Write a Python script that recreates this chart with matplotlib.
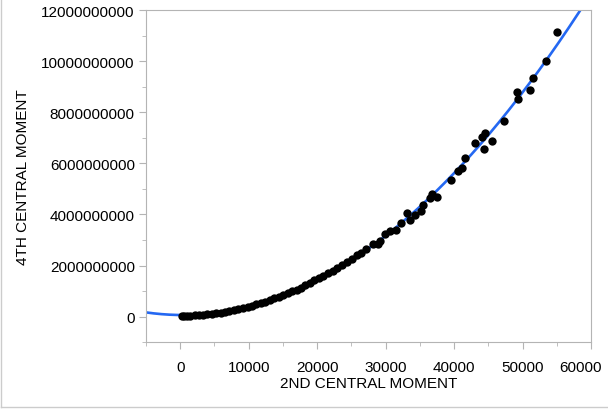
import numpy as np
import matplotlib.pyplot as plt
import matplotlib.transforms as mtrans
from matplotlib.lines import Line2D
from matplotlib.ticker import MultipleLocator, FormatStrFormatter

plt.rcParams['font.family'] = ['Liberation Sans', 'DejaVu Sans']

# 2nd central moment (x) and 4th central moment (y, in units of 1e9)
m2 = [200, 500, 1000, 1500, 2100, 2700, 3300, 3900, 4600, 5200, 5900, 6500,
      7200, 7800, 8500, 9200, 9900, 10500, 11100, 11800, 12400, 13100, 13700,
      14400, 15000, 15800, 16400, 17000, 17600, 18300, 19000, 19600, 20300,
      20900, 21600, 22300, 22900, 23700, 24300, 25100, 25800, 26400, 27200,
      28100, 28900, 29150, 29900, 30600, 31500, 32300, 33140, 33530, 34300,
      35180, 35470, 36540, 36730, 37510, 39550, 40620, 41110, 41590, 43050,
      44120, 44310, 44460, 45580, 47230, 49220, 49320, 51120, 51500, 53500,
      55060]
m4 = [0.01, 0.02, 0.03, 0.04, 0.05, 0.06, 0.08, 0.09, 0.11, 0.13, 0.16, 0.18,
      0.22, 0.25, 0.29, 0.33, 0.38, 0.43, 0.48, 0.53, 0.59, 0.65, 0.71,
      0.78, 0.83, 0.93, 1.00, 1.06, 1.13, 1.24, 1.33, 1.42, 1.52,
      1.60, 1.69, 1.80, 1.89, 2.04, 2.13, 2.27, 2.40, 2.50, 2.64,
      2.86, 2.84, 2.95, 3.25, 3.34, 3.40, 3.66, 4.06, 3.79, 3.98,
      4.14, 4.35, 4.64, 4.79, 4.69, 5.36, 5.71, 5.80, 6.22, 6.78,
      7.04, 6.56, 7.17, 6.87, 7.65, 8.79, 8.50, 8.86, 9.34, 10.02,
      11.13]

x = np.array(m2, dtype=float)
y = np.array(m4) * 1e9

coef = np.polyfit(x, y, 2)
xs = np.linspace(-5000, 60000, 400)

fig = plt.figure(figsize=(6.08, 4.10), dpi=100)
ax = fig.add_axes([0.240, 0.163, 0.732, 0.810])

ax.plot(xs, np.polyval(coef, xs), color='#2468f2', lw=1.9, zorder=2)
ax.scatter(x, y, s=36, color='black', zorder=3, linewidths=0)

ax.set_xlim(-5000, 60000)
ax.set_ylim(-1e9, 12e9)
ax.xaxis.set_major_locator(MultipleLocator(10000))
ax.xaxis.set_minor_locator(MultipleLocator(5000))
ax.yaxis.set_major_locator(MultipleLocator(2e9))
ax.yaxis.set_minor_locator(MultipleLocator(1e9))
ax.yaxis.set_major_formatter(FormatStrFormatter('%d'))
ax.xaxis.set_major_formatter(FormatStrFormatter('%d'))

for s in ax.spines.values():
    s.set_color('#b4b4b4')
ax.tick_params(which='major', length=5, color='#b4b4b4', labelsize=11, pad=3)
ax.tick_params(axis='x', which='major', pad=8)
ax.tick_params(which='minor', length=3, color='#b4b4b4')

ax.set_xlabel('2ND CENTRAL MOMENT', fontsize=11, labelpad=1)
ax.set_ylabel('4TH CENTRAL MOMENT', fontsize=11, labelpad=8)

# keep the last x label inside the figure
fig.canvas.draw()
last = [t for t in ax.get_xticklabels() if t.get_text() == '60000']
for t in last:
    t.set_transform(t.get_transform() + mtrans.ScaledTranslation(-10 / 100, 0, fig.dpi_scale_trans))

# light frame around the figure
fig.add_artist(Line2D([0.002, 0.002], [0.005, 1.0], color='#cccccc', lw=1))
fig.add_artist(Line2D([0.002, 1.0], [0.005, 0.005], color='#cccccc', lw=1))

fig.savefig('out.png', dpi=100)
